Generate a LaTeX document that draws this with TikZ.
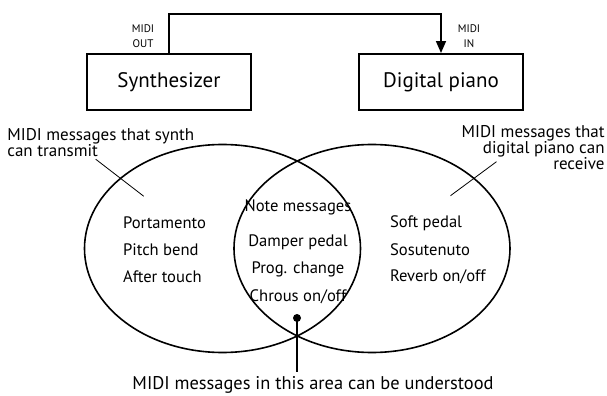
\documentclass[tikz,border=0pt]{standalone}
\usepackage{fontspec}
\setmainfont{PT Sans}
\usetikzlibrary{arrows.meta, positioning, calc, shapes.geometric}
\tikzset{
  devbox/.style={rectangle, draw, line width=1pt, minimum width=82pt, minimum height=28pt,
                 inner sep=0pt, font=\fontsize{10.5}{12}\selectfont},
  port/.style={font=\fontsize{5.5}{7.5}\selectfont, align=center, inner sep=0pt},
  setring/.style={ellipse, draw, line width=0.8pt, inner sep=0pt,
                  minimum width=138pt, minimum height=104pt},
  item/.style={font=\fontsize{8.3}{10}\selectfont},
  note/.style={font=\fontsize{8.5}{8}\selectfont, inner sep=0pt},
  arr/.style={-{Triangle[length=6pt, width=5pt]}, line width=0.8pt},
}

\begin{document}
\begin{tikzpicture}[x=0.5pt, y=-0.5pt]
  \useasboundingbox (0,0) rectangle (607,396);

  % the two instruments and the MIDI cable
  \node[devbox] (synth) at (169, 82) {Synthesizer};
  \node[devbox] (piano) at (441, 82) {Digital piano};
  \coordinate (cable) at (0, 14);
  \draw[arr] (synth.north) -- (synth.north |- cable) -| (piano.north);
  \node[port] (out) at (143, 36) {MIDI\\OUT};
  \node[port] (in) at (469, 36) {MIDI\\IN};

  % message sets
  \node[setring] (lset) at (222.5, 248.5) {};
  \node[setring] (rset) at (372, 248.5) {};

  \node[item, anchor=west] (porta) at (116, 223) {Portamento};
  \node[item, anchor=west] (bend)  at (116, 250) {Pitch bend};
  \node[item, anchor=west] (after) at (116, 277) {After touch};

  \node[item] (notes) at (298, 207) {Note messages};
  \node[item] (damp)  at (298, 242) {Damper pedal};
  \node[item] (prog)  at (298, 269) {Prog. change};
  \node[item] (chor)  at (298, 297) {Chrous on/off};

  \node[item, anchor=west] (soft) at (383, 223) {Soft pedal};
  \node[item, anchor=west] (sost) at (383, 250) {Sosutenuto};
  \node[item, anchor=west] (verb) at (383, 277) {Reverb on/off};

  % captions and pointers
  \node[note, align=left, anchor=north west] (tx) at (7, 128) {MIDI messages that synth\\can transmit};
  \node[note, align=right, anchor=north east] (rx) at (605, 125) {MIDI messages that\\digital piano can\\receive};
  \coordinate (txcut) at (lset.145);
  \coordinate (rxcut) at (rset.34);
  \draw ($(txcut)+(-25,-18)$) -- ($(txcut)+(23,19)$);
  \draw ($(rxcut)+(21,-17)$) -- ($(rxcut)+(-25,17)$);

  \node[note, font=\fontsize{9.2}{10}\selectfont] (both) at (313, 385) {MIDI messages in this area can be understood};
  \coordinate (dot) at (297, 318);
  \fill (dot) circle (2pt);
  \draw[line width=0.8pt] (dot) -- ($(dot |- both.north)+(0,-4)$);
\end{tikzpicture}
\end{document}
